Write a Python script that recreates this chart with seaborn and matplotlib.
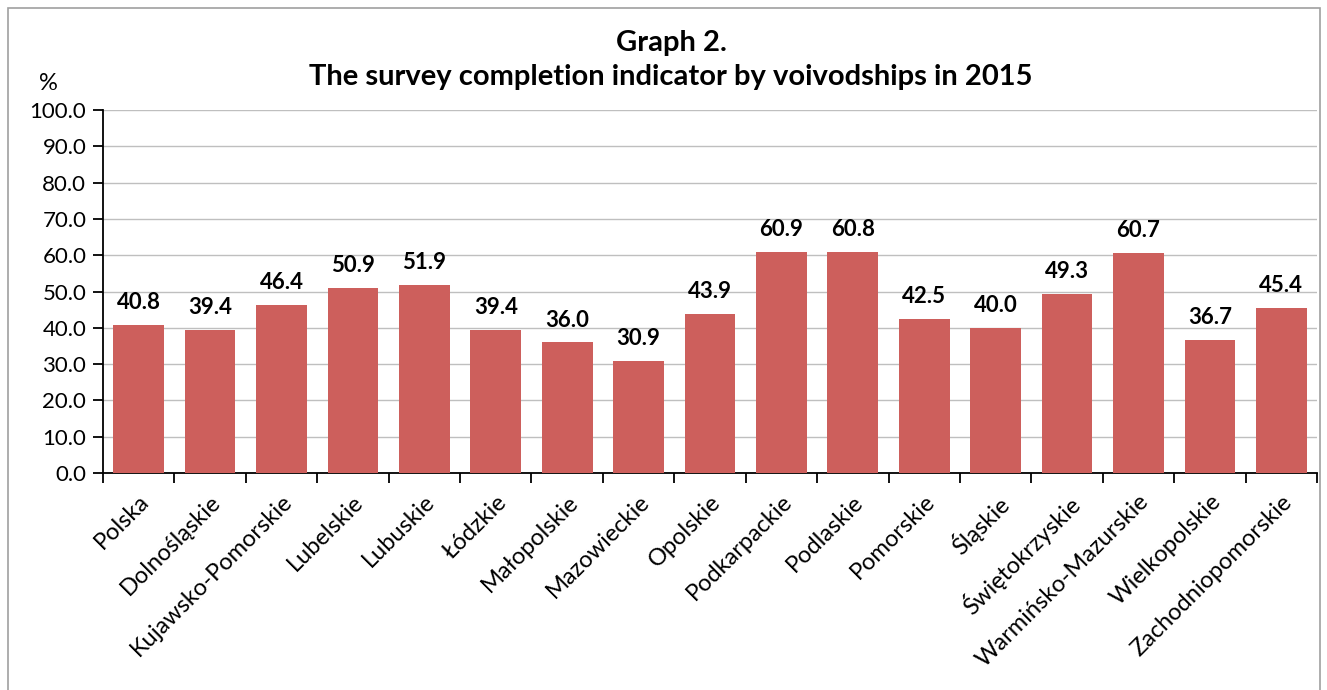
import matplotlib
matplotlib.use("Agg")
import matplotlib.pyplot as plt
import seaborn as sns
import pandas as pd
from matplotlib.patches import Rectangle

categories = ["Polska", "Dolnośląskie", "Kujawsko-Pomorskie", "Lubelskie", "Lubuskie",
              "Łódzkie", "Małopolskie", "Mazowieckie", "Opolskie", "Podkarpackie",
              "Podlaskie", "Pomorskie", "Śląskie", "Świętokrzyskie", "Warmińsko-Mazurskie",
              "Wielkopolskie", "Zachodniopomorskie"]
values = [40.8, 39.4, 46.4, 50.9, 51.9, 39.4, 36.0, 30.9, 43.9, 60.9, 60.8, 42.5,
          40.0, 49.3, 60.7, 36.7, 45.4]
y_ticks = [0, 10, 20, 30, 40, 50, 60, 70, 80, 90, 100]
title = "Graph 2.\nThe survey completion indicator by voivodships in 2015"

sns.set_style("white")
plt.rcParams['font.family'] = ['Lato', 'DejaVu Sans']

df = pd.DataFrame({"cat": categories, "val": values})

fig = plt.figure(figsize=(13.27, 6.9), dpi=100)
ax = fig.add_axes([103/1327, 1 - 473/690, (1317 - 103)/1327, (473 - 110)/690])

sns.barplot(data=df, x="cat", y="val", color="#CD5F5C", saturation=1, width=0.71,
            ax=ax, zorder=3, edgecolor="none")

ax.set_ylim(0, 100)
ax.set_xlim(-0.5, len(categories) - 0.5)
ax.set_yticks(y_ticks)
ax.set_yticklabels([f"{v:.1f}" for v in y_ticks], fontsize=16, color="black")
ax.yaxis.grid(True, color="#BFBFBF", linewidth=1, zorder=0)
ax.set_axisbelow(True)

ax.set_xticks(range(len(categories)))
ax.set_xticklabels(categories, rotation=45, ha="right", rotation_mode="anchor",
                   fontsize=17, color="black")
ax.tick_params(axis="x", which="major", length=0, pad=13)
ax.set_xticks([i - 0.5 for i in range(len(categories) + 1)], minor=True)
ax.tick_params(axis="x", which="minor", length=7, width=1.3, color="black", direction="out", bottom=True)
ax.tick_params(axis="y", length=7, width=1.3, color="black", direction="out", left=True, pad=5)
ax.set_xlabel("")
ax.set_ylabel("")

for s in ["top", "right"]:
    ax.spines[s].set_visible(False)
for s in ["left", "bottom"]:
    ax.spines[s].set_color("black")
    ax.spines[s].set_linewidth(1.3)

for i, v in enumerate(values):
    ax.annotate(f"{v:.1f}", (i, v), xytext=(0, 8.5), textcoords="offset points",
                ha="center", va="bottom", fontsize=16, fontweight="bold", color="black")

fig.text(671/1327, 1 - 60/690, title, ha="center", va="center", fontsize=21,
         fontweight="bold", linespacing=1.4, color="black")
fig.text(48/1327, 1 - 84/690, "%", ha="center", va="center", fontsize=17, color="black")

fig.patches.append(Rectangle((8/1327, -0.05), (1320 - 8)/1327, 1.05 - 8/690,
                             transform=fig.transFigure, fill=False,
                             edgecolor="#A0A0A0", linewidth=1.2))

fig.savefig("out.png", dpi=100)
